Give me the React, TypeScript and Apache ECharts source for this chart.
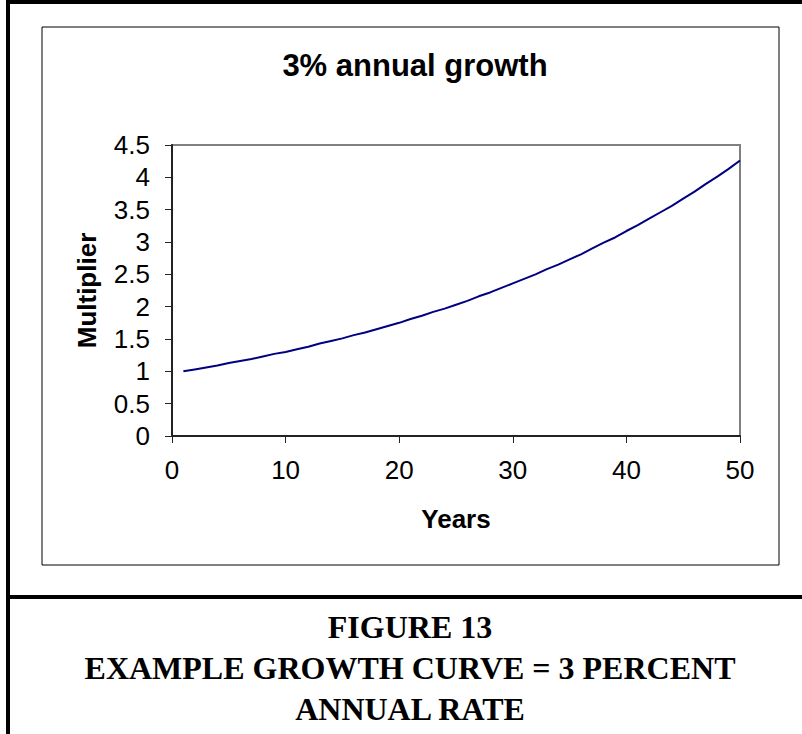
import React, { useEffect, useRef } from "react";
import * as echarts from "echarts";

const chartTitle = "3% annual growth";
const xAxisName = "Years";
const yAxisName = "Multiplier";
const captionLines = ["FIGURE 13", "EXAMPLE GROWTH CURVE = 3 PERCENT", "ANNUAL RATE"];

const years = [
  1, 2, 3, 4, 5, 6, 7, 8, 9, 10, 11, 12, 13, 14, 15, 16, 17, 18, 19, 20, 21, 22, 23, 24, 25,
  26, 27, 28, 29, 30, 31, 32, 33, 34, 35, 36, 37, 38, 39, 40, 41, 42, 43, 44, 45, 46, 47, 48, 49, 50,
];
const multiplier = [
  1.0, 1.03, 1.06, 1.09, 1.13, 1.16, 1.19, 1.23, 1.27, 1.3, 1.34, 1.38, 1.43, 1.47, 1.51, 1.56,
  1.6, 1.65, 1.7, 1.75, 1.81, 1.86, 1.92, 1.97, 2.03, 2.09, 2.16, 2.22, 2.29, 2.36, 2.43, 2.5,
  2.58, 2.65, 2.73, 2.81, 2.9, 2.99, 3.07, 3.17, 3.26, 3.36, 3.46, 3.56, 3.67, 3.78, 3.9, 4.01,
  4.13, 4.26,
];

const SANS = '"Liberation Sans", Arial, sans-serif';
const SERIF = '"Liberation Serif", "Times New Roman", serif';

export default function App() {
  const ref = useRef<HTMLDivElement>(null);

  useEffect(() => {
    document.body.style.margin = "0";
    if (!ref.current) return;
    const chart = echarts.init(ref.current, null, { renderer: "svg" });
    const data = years.map((y, i) => [y, multiplier[i]]);
    chart.setOption({
      animation: false,
      backgroundColor: "#ffffff",
      title: {
        text: chartTitle,
        left: 410,
        top: 45,
        textAlign: "center",
        textStyle: { fontFamily: SANS, fontSize: 31, fontWeight: "bold", color: "#000" },
      },
      grid: {
        left: 172,
        top: 145,
        width: 568,
        height: 291,
        show: true,
        borderColor: "#808080",
        borderWidth: 2,
        backgroundColor: "transparent",
        outerBoundsMode: "none",
      },
      xAxis: {
        type: "value",
        min: 0,
        max: 50,
        interval: 10,
        name: xAxisName,
        nameLocation: "middle",
        nameGap: 70,
        nameTextStyle: { fontFamily: SANS, fontSize: 26, fontWeight: "bold", color: "#000" },
        axisLine: { show: true, onZero: false, lineStyle: { color: "#222", width: 2 } },
        axisTick: { show: true, inside: false, length: 7, lineStyle: { color: "#222", width: 1 } },
        axisLabel: { fontFamily: SANS, fontSize: 26, color: "#000", margin: 21 },
        splitLine: { show: false },
      },
      yAxis: {
        type: "value",
        min: 0,
        max: 4.5,
        interval: 0.5,
        name: yAxisName,
        nameLocation: "middle",
        nameRotate: 90,
        nameGap: 72,
        nameTextStyle: { fontFamily: SANS, fontSize: 26, fontWeight: "bold", color: "#000" },
        axisLine: { show: true, onZero: false, lineStyle: { color: "#222", width: 2 } },
        axisTick: { show: true, inside: false, length: 7, lineStyle: { color: "#222", width: 1 } },
        axisLabel: { fontFamily: SANS, fontSize: 26, color: "#000", margin: 22 },
        splitLine: { show: false },
      },
      series: [
        {
          type: "line",
          data,
          showSymbol: false,
          symbol: "none",
          lineStyle: { color: "#000080", width: 2 },
          silent: true,
        },
      ],
      graphic: [
        { type: "rect", shape: { x: 42, y: 27, width: 737, height: 538 }, style: { fill: "none", stroke: "#000", lineWidth: 1 }, z: 100 },
        { type: "line", shape: { x1: 8, y1: 2, x2: 802, y2: 2 }, style: { stroke: "#000", lineWidth: 4 }, z: 100 },
        { type: "line", shape: { x1: 8, y1: 0, x2: 8, y2: 734 }, style: { stroke: "#000", lineWidth: 4 }, z: 100 },
        { type: "line", shape: { x1: 8, y1: 597, x2: 802, y2: 597 }, style: { stroke: "#000", lineWidth: 4 }, z: 100 },
        ...captionLines.map((t, i) => ({
          type: "text",
          x: 410,
          y: 627 + i * 41,
          z: 100,
          style: {
            text: t,
            fill: "#000",
            font: `bold 32px ${SERIF}`,
            textAlign: "center",
            textVerticalAlign: "middle",
          },
        })),
      ],
    });
    return () => chart.dispose();
  }, []);

  return <div ref={ref} style={{ width: 802, height: 734 }} />;
}
